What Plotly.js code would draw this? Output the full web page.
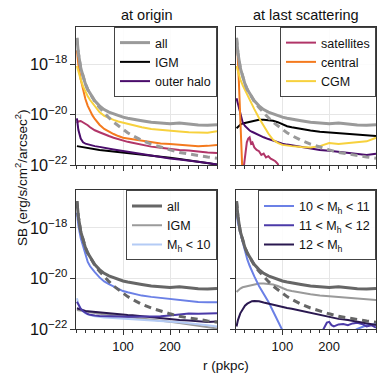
<!DOCTYPE html>
<html>
<head>
<meta charset="utf-8">
<script src="https://cdn.plot.ly/plotly-3.0.1.min.js"></script>
<style>
  body { margin: 0; background: #fff; }
  #chart { width: 383px; height: 378px; }
</style>
</head>
<body>
<div id="chart"></div>
<script>
// radius grid (pkpc), values are log10 of SB
const r = [2,5,10,15,20,25,30,35,40,50,60,70,80,90,100,110,120,140,160,180,200,220,240,260,280,300]

const all_sb   = [-16.95,-17.55,-18.14,-18.5,-18.78,-19.0,-19.17,-19.32,-19.45,-19.65,-19.8,-19.9,-19.97,-20.03,-20.1,-20.14,-20.18,-20.24,-20.3,-20.34,-20.36,-20.33,-20.38,-20.41,-20.42,-20.4]
const model_sb = [-16.95,-17.55,-18.14,-18.5,-18.78,-19.0,-19.17,-19.33,-19.48,-19.72,-19.93,-20.12,-20.3,-20.45,-20.6,-20.72,-20.83,-21.02,-21.17,-21.3,-21.4,-21.5,-21.57,-21.63,-21.68,-21.73]

// at origin
const igm_o     = [-21.25,-21.26,-21.28,-21.3,-21.32,-21.33,-21.35,-21.36,-21.37,-21.4,-21.42,-21.44,-21.46,-21.48,-21.5,-21.52,-21.54,-21.57,-21.62,-21.66,-21.71,-21.76,-21.81,-21.86,-21.92,-21.98]
const halo_o    = [-20.15,-20.6,-20.95,-21.1,-21.15,-21.18,-21.2,-21.22,-21.25,-21.28,-21.32,-21.35,-21.38,-21.41,-21.44,-21.47,-21.5,-21.56,-21.63,-21.69,-21.74,-21.78,-21.84,-21.87,-21.92,-21.98]
const sat_o     = [-20.33,-20.27,-20.25,-20.3,-20.36,-20.42,-20.5,-20.57,-20.62,-20.7,-20.76,-20.85,-20.92,-20.98,-21.03,-21.08,-21.12,-21.2,-21.27,-21.31,-21.36,-21.4,-21.42,-21.47,-21.5,-21.52]
const central_o = [-17.45,-18.0,-18.6,-19.0,-19.38,-19.65,-19.85,-20.03,-20.17,-20.4,-20.57,-20.68,-20.77,-20.85,-20.92,-20.95,-20.98,-21.05,-21.11,-21.15,-21.17,-21.2,-21.24,-21.25,-21.24,-21.2]
const cgm_o     = [-18.07,-18.3,-18.6,-18.88,-19.1,-19.27,-19.42,-19.55,-19.66,-19.9,-20.05,-20.14,-20.21,-20.27,-20.32,-20.38,-20.43,-20.5,-20.57,-20.61,-20.65,-20.67,-20.7,-20.72,-20.72,-20.66]

// at last scattering
const igm_s     = [-20.54,-20.47,-20.4,-20.35,-20.33,-20.3,-20.27,-20.24,-20.22,-20.2,-20.2,-20.21,-20.24,-20.3,-20.38,-20.46,-20.5,-20.58,-20.63,-20.68,-20.71,-20.74,-20.77,-20.8,-20.82,-20.85]
const halo_s    = [-19.35,-19.6,-19.92,-20.3,-20.45,-20.55,-20.63,-20.68,-20.73,-20.83,-20.9,-20.97,-21.04,-21.1,-21.15,-21.19,-21.22,-21.3,-21.35,-21.4,-21.43,-21.47,-21.51,-21.56,-21.6,-21.55]
const cgm_s     = [-18.07,-18.3,-18.6,-18.83,-19.03,-19.22,-19.42,-19.6,-19.78,-20.13,-20.45,-20.75,-21.0,-21.12,-21.2,-21.23,-21.25,-21.28,-21.3,-21.25,-21.13,-21.17,-21.13,-21.1,-21.06,-20.92]
const central_s_r = [2,4,7,10,13,15]
const central_s   = [-17.35,-17.45,-18.7,-20.1,-21.6,-22.5]
const sat_s_r = [16,20,24,27,30,33,36,40,45,50,55,60,65,70,75,80,85,90,95]
const sat_s   = [-22.3,-21.6,-21.1,-20.95,-20.9,-21.15,-21.1,-21.3,-21.4,-21.45,-21.6,-21.55,-21.7,-21.65,-21.75,-21.8,-21.85,-21.95,-22.2]

// halo mass bins, at origin
const m10_o   = [-20.78,-21.0,-21.2,-21.31,-21.38,-21.42,-21.46,-21.48,-21.5,-21.53,-21.55,-21.56,-21.57,-21.58,-21.59,-21.6,-21.61,-21.64,-21.66,-21.68,-21.7,-21.73,-21.77,-21.8,-21.85,-21.9]
const m1011_o = [-17.4,-17.9,-18.4,-18.75,-19.1,-19.35,-19.52,-19.65,-19.75,-19.96,-20.12,-20.23,-20.32,-20.42,-20.5,-20.55,-20.6,-20.68,-20.73,-20.77,-20.82,-20.86,-20.9,-20.93,-20.94,-20.94]
const m1112_o = [-20.92,-21.05,-21.2,-21.3,-21.36,-21.41,-21.44,-21.46,-21.47,-21.49,-21.5,-21.51,-21.51,-21.52,-21.52,-21.52,-21.52,-21.52,-21.51,-21.5,-21.47,-21.43,-21.39,-21.4,-21.4,-21.38]
const m12_o   = [-21.18,-21.2,-21.24,-21.27,-21.29,-21.3,-21.31,-21.32,-21.33,-21.36,-21.38,-21.4,-21.41,-21.42,-21.43,-21.45,-21.46,-21.5,-21.54,-21.57,-21.6,-21.64,-21.66,-21.7,-21.72,-21.7]

// halo mass bins, at last scattering
const m1011_s = [-17.4,-17.8,-18.2,-18.55,-18.95,-19.25,-19.5,-19.72,-19.92,-20.3,-20.6,-20.92,-21.3,-21.65,-22.0,-22.4,-22.8,-23.5,-23.5,-23.0,-22.6,-22.4,-22.2,-22.0,-21.85,-21.8]
const m1112_s_r = [150,170,185,190,195,200,205,210,220,230,240,250,260,270,280,290,300]
const m1112_s   = [-23,-22.4,-22.1,-21.95,-21.75,-21.72,-21.85,-21.9,-21.82,-21.8,-21.85,-21.78,-21.75,-21.8,-21.9,-21.85,-21.95]
const m12_s   = [-21.9,-21.65,-21.38,-21.2,-21.08,-21.0,-20.94,-20.9,-20.89,-20.9,-20.95,-21.0,-21.03,-21.07,-21.12,-21.17,-21.2,-21.28,-21.38,-21.46,-21.54,-21.6,-21.64,-21.7,-21.78,-21.84]

const C = {
	all: '#9a9a9a', igm: '#000000', halo: '#4a0c6b', sat: '#b13568', central: '#f47a1e', cgm: '#f7d13d',
	allB: '#666666', igmB: '#9a9a9a', m10: '#b4cbf5', m1011: '#6b80e6', m1112: '#4b3aa8', m12: '#2a1850'
}

function line(x, logy, color, width, name, ax, legend, rank, dash){
	return {
		type: 'scatter', mode: 'lines',
		x: x, y: logy.map(v => Math.pow(10, v)),
		name: name,
		xaxis: 'x' + ax, yaxis: 'y' + ax,
		line: {color: color, width: width, dash: dash || 'solid'},
		showlegend: !!legend,
		legend: legend || 'legend',
		legendrank: rank || 1000,
		hoverinfo: 'skip'
	}
}

let traces = [
	// top left
	line(r, igm_o, C.igm, 2, 'IGM', '', 'legend', 2),
	line(r, sat_o, C.sat, 2, 'satellites', ''),
	line(r, central_o, C.central, 2, 'central', ''),
	line(r, halo_o, C.halo, 2, 'outer halo', '', 'legend', 3),
	line(r, cgm_o, C.cgm, 2, 'CGM', ''),
	line(r, all_sb, C.all, 3, 'all', '', 'legend', 1),
	line(r, model_sb, C.all, 3, 'model', '', null, 0, '7px,5px'),
	// top right
	line(r, igm_s, C.igm, 2, 'IGM', '2'),
	line(r, halo_s, C.halo, 2, 'outer halo', '2'),
	line(sat_s_r, sat_s, C.sat, 2, 'satellites', '2', 'legend2', 1),
	line(central_s_r, central_s, C.central, 2, 'central', '2', 'legend2', 2),
	line(r, cgm_s, C.cgm, 2, 'CGM', '2', 'legend2', 3),
	line(r, all_sb, C.all, 3, 'all', '2'),
	line(r, model_sb, C.all, 3, 'model', '2', null, 0, '7px,5px'),
	// bottom left
	line(r, igm_o, C.igmB, 2, 'IGM', '3', 'legend3', 2),
	line(r, m10_o, C.m10, 2, 'M<sub>h</sub> &lt; 10', '3', 'legend3', 3),
	line(r, m12_o, C.m12, 2, '12 &lt; M<sub>h</sub>', '3'),
	line(r, m1112_o, C.m1112, 2, '11 &lt; M<sub>h</sub> &lt; 12', '3'),
	line(r, m1011_o, C.m1011, 2, '10 &lt; M<sub>h</sub> &lt; 11', '3'),
	line(r, all_sb, C.allB, 3, 'all', '3', 'legend3', 1),
	line(r, model_sb, C.allB, 3, 'model', '3', null, 0, '7px,5px'),
	// bottom right
	line(r, igm_s, C.igmB, 2, 'IGM', '4'),
	line(r, m1011_s, C.m1011, 2, '10 &lt; M<sub>h</sub> &lt; 11', '4', 'legend4', 1),
	line(m1112_s_r, m1112_s, C.m1112, 2, '11 &lt; M<sub>h</sub> &lt; 12', '4', 'legend4', 2),
	line(r, m12_s, C.m12, 2, '12 &lt; M<sub>h</sub>', '4', 'legend4', 3),
	line(r, all_sb, C.allB, 3, 'all', '4'),
	line(r, model_sb, C.allB, 3, 'model', '4', null, 0, '7px,5px')
]

const FONT = 'Liberation Sans, Arial, sans-serif'

function xax(domain, anchor, labels){
	return {
		domain: domain, anchor: anchor, range: [0, 300],
		tickvals: [100, 200], showticklabels: labels,
		ticks: 'outside', ticklen: 5, tickcolor: '#333', tickwidth: 1,
		minor: {dtick: 20, tick0: 0, ticks: 'outside', ticklen: 3, tickcolor: '#333', showgrid: false},
		showgrid: true, gridcolor: '#e6e6e6', gridwidth: 1,
		showline: true, linecolor: '#333', linewidth: 1, mirror: true,
		zeroline: false, tickfont: {size: 13, color: '#111'}
	}
}
function yax(domain, anchor, labels){
	return {
		domain: domain, anchor: anchor, type: 'log', range: [-22, -16.52],
		dtick: 2, exponentformat: 'power', showticklabels: labels,
		ticks: 'outside', ticklen: 5, tickcolor: '#333', tickwidth: 1,
		showgrid: true, gridcolor: '#e6e6e6', gridwidth: 1,
		showline: true, linecolor: '#333', linewidth: 1, mirror: true,
		zeroline: false, tickfont: {size: 13, color: '#111'}
	}
}

const xl = [0, 0.47], xr = [0.532, 1], yt = [0.543, 1], yb = [0, 0.459]

function leg(x, y){
	return {
		x: x, y: y, xanchor: 'right', yanchor: 'top',
		bgcolor: 'rgba(255,255,255,0.85)', bordercolor: '#444', borderwidth: 1,
		font: {size: 12.5, family: FONT, color: '#111'},
		tracegroupgap: 0
	}
}

function subtitle(text, ax){
	return {
		text: text, showarrow: false,
		xref: 'x' + ax + ' domain', yref: 'y' + ax + ' domain',
		x: 0.5, y: 1, xanchor: 'center', yanchor: 'bottom', yshift: 2,
		font: {size: 14.5, family: FONT, color: '#111'}
	}
}

const layout = {
	width: 383, height: 378,
	margin: {l: 76, r: 7, t: 27, b: 49},
	paper_bgcolor: '#fff', plot_bgcolor: '#fff',
	font: {family: FONT, color: '#111'},
	xaxis:  xax(xl, 'y',  false), yaxis:  yax(yt, 'x',  true),
	xaxis2: xax(xr, 'y2', false), yaxis2: yax(yt, 'x2', false),
	xaxis3: xax(xl, 'y3', true),  yaxis3: yax(yb, 'x3', true),
	xaxis4: xax(xr, 'y4', true),  yaxis4: yax(yb, 'x4', false),
	legend:  leg(0.47, 1),
	legend2: leg(1, 1),
	legend3: leg(0.47, 0.459),
	legend4: leg(1, 0.459),
	annotations: [
		subtitle('at origin', ''),
		subtitle('at last scattering', '2'),
		{
			text: 'SB (erg/s/cm<sup>2</sup>/arcsec<sup>2</sup>)', showarrow: false, textangle: -90,
			xref: 'paper', yref: 'paper', x: 0, y: 0.5, xanchor: 'center', yanchor: 'middle', xshift: -55,
			font: {size: 13.5, family: FONT, color: '#111'}
		},
		{
			text: 'r (pkpc)', showarrow: false,
			xref: 'paper', yref: 'paper', x: 0.5, y: 0, xanchor: 'center', yanchor: 'middle', yshift: -36,
			font: {size: 13.5, family: FONT, color: '#111'}
		}
	]
}

Plotly.newPlot('chart', traces, layout, {displayModeBar: false, staticPlot: true})
</script>
</body>
</html>
